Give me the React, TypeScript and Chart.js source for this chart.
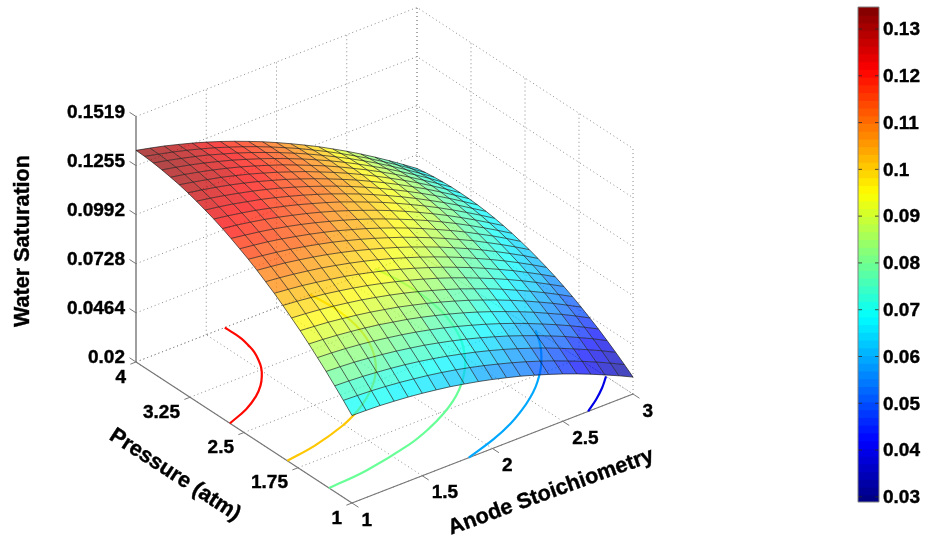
import React, { useEffect, useRef } from "react";
import { Chart, registerables } from "chart.js";

Chart.register(...registerables);

// ---------- data ----------
const anodeValues = [1, 1.1, 1.2, 1.3, 1.4, 1.5, 1.6, 1.7, 1.8, 1.9, 2, 2.1, 2.2, 2.3, 2.4, 2.5, 2.6, 2.7, 2.8, 2.9, 3];
const pressureValues = [1, 1.12, 1.24, 1.36, 1.48, 1.6, 1.72, 1.84, 1.96, 2.08, 2.2, 2.32, 2.44, 2.56, 2.68, 2.8, 2.92, 3.04, 3.16, 3.28, 3.4, 3.52, 3.64, 3.76, 3.88, 4];
// saturation[pressure index][anode index]
const saturation = [
  [.0670, .0668, .0665, .0659, .0652, .0643, .0632, .0620, .0605, .0589, .0571, .0551, .0530, .0506, .0481, .0454, .0425, .0394, .0361, .0327, .0291],
  [.0721, .0718, .0714, .0708, .0700, .0690, .0679, .0666, .0651, .0634, .0615, .0594, .0572, .0548, .0522, .0494, .0464, .0433, .0400, .0365, .0328],
  [.0769, .0766, .0761, .0754, .0746, .0736, .0724, .0710, .0694, .0676, .0657, .0636, .0613, .0588, .0561, .0533, .0502, .0470, .0436, .0401, .0363],
  [.0816, .0812, .0807, .0799, .0790, .0779, .0766, .0752, .0735, .0717, .0697, .0675, .0651, .0626, .0598, .0569, .0538, .0506, .0471, .0435, .0396],
  [.0860, .0856, .0850, .0842, .0832, .0820, .0807, .0792, .0775, .0756, .0735, .0712, .0688, .0662, .0634, .0604, .0572, .0539, .0504, .0467, .0428],
  [.0903, .0898, .0891, .0882, .0872, .0860, .0845, .0830, .0812, .0792, .0771, .0748, .0723, .0696, .0667, .0637, .0605, .0570, .0535, .0497, .0457],
  [.0944, .0938, .0931, .0921, .0910, .0897, .0882, .0866, .0847, .0827, .0805, .0781, .0756, .0728, .0699, .0668, .0635, .0600, .0564, .0525, .0485],
  [.0982, .0976, .0968, .0958, .0946, .0933, .0917, .0900, .0881, .0860, .0837, .0813, .0787, .0758, .0729, .0697, .0663, .0628, .0591, .0552, .0511],
  [.1019, .1012, .1003, .0993, .0980, .0966, .0950, .0932, .0912, .0891, .0868, .0843, .0816, .0787, .0756, .0724, .0690, .0654, .0616, .0576, .0535],
  [.1054, .1046, .1037, .1025, .1012, .0998, .0981, .0962, .0942, .0920, .0896, .0870, .0843, .0813, .0782, .0749, .0714, .0678, .0639, .0599, .0557],
  [.1086, .1078, .1068, .1056, .1043, .1027, .1010, .0991, .0970, .0947, .0922, .0896, .0868, .0838, .0806, .0772, .0737, .0700, .0661, .0620, .0577],
  [.1117, .1108, .1098, .1085, .1071, .1055, .1037, .1017, .0995, .0972, .0947, .0920, .0891, .0861, .0828, .0794, .0758, .0720, .0680, .0639, .0595],
  [.1146, .1136, .1125, .1112, .1097, .1080, .1062, .1041, .1019, .0995, .0969, .0942, .0912, .0881, .0848, .0813, .0777, .0738, .0698, .0656, .0612],
  [.1172, .1162, .1151, .1137, .1121, .1104, .1085, .1064, .1041, .1017, .0990, .0962, .0932, .0900, .0866, .0831, .0794, .0754, .0714, .0671, .0626],
  [.1197, .1186, .1174, .1160, .1144, .1126, .1106, .1084, .1061, .1036, .1009, .0980, .0949, .0917, .0883, .0847, .0809, .0769, .0727, .0684, .0639],
  [.1220, .1209, .1196, .1181, .1164, .1145, .1125, .1103, .1079, .1053, .1025, .0996, .0965, .0932, .0897, .0860, .0822, .0781, .0739, .0695, .0650],
  [.1241, .1229, .1215, .1200, .1182, .1163, .1142, .1119, .1095, .1069, .1040, .1010, .0979, .0945, .0909, .0872, .0833, .0792, .0749, .0705, .0659],
  [.1259, .1247, .1233, .1216, .1199, .1179, .1157, .1134, .1109, .1082, .1053, .1023, .0990, .0956, .0920, .0882, .0842, .0801, .0758, .0712, .0666],
  [.1276, .1263, .1248, .1231, .1213, .1193, .1171, .1147, .1121, .1093, .1064, .1033, .1000, .0965, .0928, .0890, .0850, .0808, .0764, .0718, .0671],
  [.1291, .1277, .1262, .1245, .1226, .1205, .1182, .1158, .1131, .1103, .1073, .1041, .1008, .0972, .0935, .0896, .0855, .0813, .0768, .0722, .0674],
  [.1304, .1289, .1273, .1256, .1236, .1215, .1191, .1166, .1139, .1111, .1080, .1048, .1014, .0978, .0940, .0900, .0859, .0816, .0771, .0724, .0675],
  [.1314, .1300, .1283, .1265, .1245, .1223, .1199, .1173, .1146, .1116, .1085, .1053, .1018, .0981, .0943, .0903, .0861, .0817, .0771, .0724, .0675],
  [.1323, .1308, .1291, .1272, .1251, .1229, .1204, .1178, .1150, .1120, .1089, .1055, .1020, .0983, .0944, .0903, .0861, .0816, .0770, .0722, .0672],
  [.1330, .1314, .1296, .1277, .1256, .1232, .1208, .1181, .1152, .1122, .1090, .1056, .1020, .0982, .0943, .0902, .0859, .0814, .0767, .0718, .0668],
  [.1335, .1318, .1300, .1280, .1258, .1235, .1209, .1182, .1153, .1122, .1089, .1055, .1018, .0980, .0940, .0898, .0855, .0809, .0762, .0713, .0662],
  [.1337, .1320, .1302, .1281, .1259, .1235, .1209, .1181, .1151, .1120, .1086, .1051, .1014, .0976, .0935, .0893, .0849, .0803, .0755, .0705, .0654],
];
const contourLevels = [0.04, 0.06, 0.08, 0.1, 0.12];
const anodeTicks = [1, 1.5, 2, 2.5, 3];
const pressureTicks = [1, 1.75, 2.5, 3.25, 4];
const zTicks = [0.02, 0.0464, 0.0728, 0.0992, 0.1255, 0.1519];
const zTickLabels = ["0.02", "0.0464", "0.0728", "0.0992", "0.1255", "0.1519"];
const colorbarTicks = [0.03, 0.04, 0.05, 0.06, 0.07, 0.08, 0.09, 0.1, 0.11, 0.12, 0.13];
const colorbarTickLabels = ["0.03", "0.04", "0.05", "0.06", "0.07", "0.08", "0.09", "0.1", "0.11", "0.12", "0.13"];
const colorMin = 0.0289;
const colorMax = 0.1347;
const colorSteps = 64;

// ---------- view ----------
const W = 928;
const H = 542;
const FONT = '"Liberation Sans", Arial, sans-serif';
const Z_MIN = 0.02;
const Z_MAX = 0.1519;
const A_MIN = 1;
const A_MAX = 3;
const P_MIN = 1;
const P_MAX = 4;
const BAR = { left: 858, right: 879, top: 7, bottom: 502 };

function project(a: number, p: number, z: number) {
  const ta = (a - A_MIN) / (A_MAX - A_MIN);
  const tp = (p - P_MIN) / (P_MAX - P_MIN);
  const tz = (z - Z_MIN) / (Z_MAX - Z_MIN);
  return { x: 352 + 281 * ta - 216 * tp, y: 503 - 109 * ta - 141 * tp - 245.5 * tz };
}

function barY(v: number) {
  return BAR.top + ((colorMax - v) / (colorMax - colorMin)) * (BAR.bottom - BAR.top);
}

function jet(v: number) {
  const c = (x: number) => Math.round(255 * Math.max(0, Math.min(1, x)));
  return [c(1.5 - Math.abs(4 * v - 3)), c(1.5 - Math.abs(4 * v - 2)), c(1.5 - Math.abs(4 * v - 1))];
}

function colorOf(value: number, alpha = 1) {
  const n = Math.max(0, Math.min(colorSteps - 1, Math.floor(((value - colorMin) / (colorMax - colorMin)) * colorSteps)));
  const [r, g, b] = jet((n + 0.5) / colorSteps);
  return `rgba(${r},${g},${b},${alpha})`;
}

type Pt = { x: number; y: number };

function polyline(data: Pt[], color: string, width: number, dash?: number[], tension = 0) {
  return {
    data,
    showLine: true,
    fill: false,
    borderColor: color,
    borderWidth: width,
    borderDash: dash ?? [1000, 0],
    pointRadius: 0,
    pointHoverRadius: 0,
    tension,
  };
}

function polygon(data: Pt[], color: string) {
  return {
    data: [...data, data[0]],
    showLine: true,
    fill: "shape",
    backgroundColor: color,
    borderColor: "rgba(0,0,0,0)",
    borderWidth: 0,
    borderDash: [1000, 0],
    pointRadius: 0,
    pointHoverRadius: 0,
    tension: 0,
  };
}

function contourPoints(level: number): Pt[] {
  const out: Pt[] = [];
  const lastCol = anodeValues.length - 1;
  saturation.forEach((row, i) => {
    for (let j = 0; j < lastCol; j++) {
      if ((row[j] - level) * (row[j + 1] - level) <= 0) {
        const f = (level - row[j]) / (row[j + 1] - row[j]);
        out.push(project(anodeValues[j] + f * (anodeValues[j + 1] - anodeValues[j]), pressureValues[i], Z_MIN));
        break;
      }
    }
    if (i < saturation.length - 1) {
      for (const col of [0, lastCol]) {
        const u = row[col];
        const v = saturation[i + 1][col];
        if ((u - level) * (v - level) < 0) {
          const f = (level - u) / (v - u);
          out.push(project(anodeValues[col], pressureValues[i] + f * (pressureValues[i + 1] - pressureValues[i]), Z_MIN));
        }
      }
    }
  });
  return out;
}

function buildDatasets() {
  const layers: any[] = []; // bottom to top
  const DOT = "#8a8a8a";
  const dots = [1, 3];
  // walls and floor grid
  for (const a of anodeTicks) {
    layers.push(polyline([project(a, P_MIN, Z_MIN), project(a, P_MAX, Z_MIN)], DOT, 1, dots));
    if (a > A_MIN) layers.push(polyline([project(a, P_MAX, Z_MIN), project(a, P_MAX, Z_MAX)], DOT, 1, dots));
  }
  for (const p of pressureTicks) {
    layers.push(polyline([project(A_MIN, p, Z_MIN), project(A_MAX, p, Z_MIN)], DOT, 1, dots));
    layers.push(polyline([project(A_MAX, p, Z_MIN), project(A_MAX, p, Z_MAX)], DOT, 1, dots));
  }
  for (const z of zTicks) {
    layers.push(polyline([project(A_MIN, P_MAX, z), project(A_MAX, P_MAX, z), project(A_MAX, P_MIN, z)], DOT, 1, dots));
  }
  // axes with their ticks
  const AXIS = "#777777";
  layers.push(polyline([project(A_MIN, P_MAX, Z_MIN), project(A_MIN, P_MAX, Z_MAX)], AXIS, 1.4));
  layers.push(polyline([project(A_MIN, P_MAX, Z_MIN), project(A_MIN, P_MIN, Z_MIN)], AXIS, 1.2));
  layers.push(polyline([project(A_MIN, P_MIN, Z_MIN), project(A_MAX, P_MIN, Z_MIN)], AXIS, 1.2));
  for (const z of zTicks) layers.push(polyline([project(A_MIN, P_MAX, z), project(A_MIN, P_MAX + 0.09, z)], AXIS, 1));
  for (const p of pressureTicks) layers.push(polyline([project(A_MIN, p, Z_MIN), project(A_MIN - 0.04, p, Z_MIN)], AXIS, 1));
  for (const a of anodeTicks) layers.push(polyline([project(a, P_MIN, Z_MIN), project(a, P_MIN - 0.09, Z_MIN)], AXIS, 1));
  // floor contours
  for (const level of contourLevels) layers.push(polyline(contourPoints(level), colorOf(level), 2.2, undefined, 0.4));
  // surface facets, far to near
  for (let i = pressureValues.length - 2; i >= 0; i--) {
    for (let j = anodeValues.length - 2; j >= 0; j--) {
      const corners = [
        [i, j],
        [i, j + 1],
        [i + 1, j + 1],
        [i + 1, j],
      ];
      const mean = corners.reduce((s, [r, c]) => s + saturation[r][c], 0) / 4;
      layers.push(
        polygon(
          corners.map(([r, c]) => project(anodeValues[c], pressureValues[r], saturation[r][c])),
          colorOf(mean, 0.72)
        )
      );
    }
  }
  // mesh
  const MESH = "rgba(20,20,20,0.65)";
  pressureValues.forEach((p, i) => {
    layers.push(polyline(anodeValues.map((a, j) => project(a, p, saturation[i][j])), MESH, 1));
  });
  anodeValues.forEach((a, j) => {
    layers.push(polyline(pressureValues.map((p, i) => project(a, p, saturation[i][j])), MESH, 1));
  });
  // colour bar: each opaque step overlaps the one below it, so no seams show
  for (let n = 0; n < colorSteps; n++) {
    const lo = colorMin + (n / colorSteps) * (colorMax - colorMin);
    const hi = colorMin + ((n + 1) / colorSteps) * (colorMax - colorMin);
    const [r, g, b] = jet((n + 0.5) / colorSteps);
    const bottom = n === 0 ? barY(lo) : barY(lo) + 1;
    layers.push(
      polygon(
        [
          { x: BAR.left, y: bottom },
          { x: BAR.right, y: bottom },
          { x: BAR.right, y: barY(hi) },
          { x: BAR.left, y: barY(hi) },
        ],
        `rgb(${r},${g},${b})`
      )
    );
  }
  for (const v of colorbarTicks) {
    const y = barY(v);
    layers.push(polyline([{ x: BAR.left, y }, { x: BAR.left + 4, y }], "rgba(40,40,40,0.8)", 1));
    layers.push(polyline([{ x: BAR.right - 4, y }, { x: BAR.right, y }], "rgba(40,40,40,0.8)", 1));
  }
  layers.push(
    polyline(
      [
        { x: BAR.left, y: BAR.top },
        { x: BAR.right, y: BAR.top },
        { x: BAR.right, y: BAR.bottom },
        { x: BAR.left, y: BAR.bottom },
        { x: BAR.left, y: BAR.top },
      ],
      "#808080",
      1
    )
  );
  // Chart.js paints the first dataset last
  return layers.reverse();
}

const textPlugin = {
  id: "textLabels",
  afterDraw(chart: any) {
    const { ctx } = chart;
    const sx = chart.scales.x;
    const sy = chart.scales.y;
    const put = (text: string, x: number, y: number, size: number, align: CanvasTextAlign, angle = 0) => {
      ctx.save();
      ctx.translate(sx.getPixelForValue(x), sy.getPixelForValue(y));
      ctx.rotate((angle * Math.PI) / 180);
      ctx.font = `bold ${size}px ${FONT}`;
      ctx.fillStyle = "#000";
      ctx.strokeStyle = "#000";
      ctx.lineWidth = 0.4;
      ctx.textAlign = align;
      ctx.textBaseline = "middle";
      ctx.fillText(text, 0, 0);
      ctx.strokeText(text, 0, 0);
      ctx.restore();
    };
    zTicks.forEach((z, i) => {
      const q = project(A_MIN, P_MAX, z);
      put(zTickLabels[i], q.x - 11, q.y - 4, 19, "right");
    });
    pressureTicks.forEach((p) => {
      const q = project(A_MIN, p, Z_MIN);
      put(String(p), q.x - 10, q.y + 15.5, 19, "right");
    });
    anodeTicks.forEach((a) => {
      const q = project(a, P_MIN, Z_MIN);
      put(String(a), q.x + 9.5, q.y + 17.5, 19, "left");
    });
    colorbarTicks.forEach((v, i) => put(colorbarTickLabels[i], 883, barY(v) + 1, 19, "left"));
    put("Water Saturation", 23, 241, 21.6, "center", -90);
    put("Pressure (atm)", 175, 475, 21.6, "center", 33);
    put("Anode Stoichiometry", 551, 492, 21.6, "center", -20);
  },
};

export default function App() {
  const ref = useRef<HTMLCanvasElement | null>(null);
  useEffect(() => {
    if (!ref.current) return;
    const chart = new Chart(ref.current, {
      type: "scatter",
      data: { datasets: buildDatasets() as any },
      options: {
        animation: false,
        responsive: false,
        events: [],
        layout: { padding: 0 },
        plugins: { legend: { display: false }, tooltip: { enabled: false } },
        scales: {
          x: { type: "linear", display: false, min: 0, max: W },
          y: { type: "linear", display: false, min: 0, max: H, reverse: true },
        },
      },
      plugins: [textPlugin],
    } as any);
    return () => chart.destroy();
  }, []);
  return (
    <div style={{ position: "absolute", left: 0, top: 0, width: W, height: H, background: "#fff" }}>
      <canvas ref={ref} width={W} height={H} style={{ display: "block", filter: "blur(0.4px)" }} />
    </div>
  );
}
